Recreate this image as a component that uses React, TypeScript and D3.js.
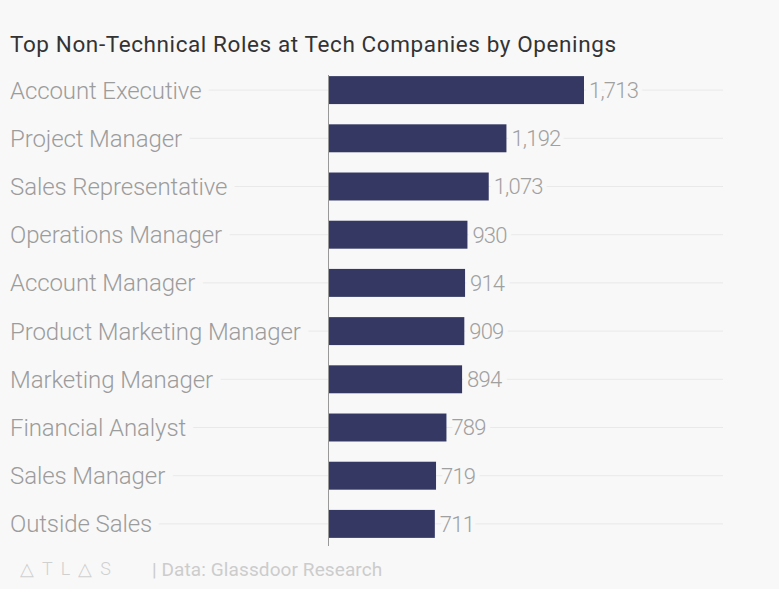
import { useEffect, useRef } from 'react'
import * as d3 from 'd3'

const roles = [
  'Account Executive',
  'Project Manager',
  'Sales Representative',
  'Operations Manager',
  'Account Manager',
  'Product Marketing Manager',
  'Marketing Manager',
  'Financial Analyst',
  'Sales Manager',
  'Outside Sales',
]
const openings = [1713, 1192, 1073, 930, 914, 909, 894, 789, 719, 711]

const width = 779
const height = 589
const bg = '#f8f8f8'

export default function App() {
  const svgRef = useRef<SVGSVGElement>(null)

  useEffect(() => {
    if (!svgRef.current) return
    const svg = d3.select(svgRef.current)
    svg.selectAll('*').remove()

    const data = roles.map((r, i) => ({ role: r, value: openings[i] }))

    const x = d3.scaleLinear().domain([0, 1713]).range([329, 584])
    const y = d3.scaleBand<string>()
      .domain(roles)
      .range([66, 548])
      .paddingInner(0.42)
      .paddingOuter(0.21)

    svg.append('rect').attr('width', width).attr('height', height).attr('fill', bg)

    svg.append('text')
      .attr('x', 10)
      .attr('y', 51.5)
      .attr('fill', '#333')
      .attr('font-family', 'Roboto, sans-serif')
      .attr('font-size', '22.5px')
      .attr('letter-spacing', '0.6px')
      .text('Top Non-Technical Roles at Tech Companies by Openings')

    const rows = svg.append('g')
      .selectAll('g')
      .data(data)
      .enter()
      .append('g')

    const cy = (d: { role: string }) => (y(d.role) ?? 0) + y.bandwidth() / 2

    // gridlines
    rows.append('line')
      .attr('x1', 10)
      .attr('x2', 723)
      .attr('y1', cy)
      .attr('y2', cy)
      .attr('stroke', '#e9e9e9')
      .attr('stroke-width', 1)

    // category labels (background stroke breaks the gridline)
    rows.append('text')
      .attr('x', 10)
      .attr('y', cy)
      .attr('dy', '0.35em')
      .attr('fill', '#9c9c9c')
      .attr('stroke', bg)
      .attr('stroke-width', 16)
      .attr('paint-order', 'stroke')
      .attr('font-family', 'Roboto, sans-serif')
      .attr('font-weight', 300)
      .attr('font-size', '24px')
      .attr('letter-spacing', '-0.1px')
      .text(d => d.role)

    rows.append('rect')
      .attr('x', x(0))
      .attr('y', d => y(d.role) ?? 0)
      .attr('width', d => x(d.value) - x(0))
      .attr('height', y.bandwidth())
      .attr('fill', '#343862')

    rows.append('text')
      .attr('x', d => x(d.value) + 5)
      .attr('y', cy)
      .attr('dy', '0.36em')
      .attr('fill', '#a0a0a0')
      .attr('stroke', bg)
      .attr('stroke-width', 10)
      .attr('paint-order', 'stroke')
      .attr('font-family', 'Roboto, sans-serif')
      .attr('font-weight', 300)
      .attr('font-size', '22px')
      .attr('letter-spacing', '-0.8px')
      .text(d => d3.format(',')(d.value))

    // axis line
    svg.append('line')
      .attr('x1', x(0) - 0.5)
      .attr('x2', x(0) - 0.5)
      .attr('y1', 75)
      .attr('y2', 546)
      .attr('stroke', '#999')
      .attr('stroke-width', 1)

    // footer
    svg.append('text')
      .attr('x', 20)
      .attr('y', 575)
      .attr('fill', '#d0d0d0')
      .attr('font-family', 'Roboto, sans-serif')
      .attr('font-weight', 300)
      .attr('font-size', '18px')
      .attr('letter-spacing', '8px')
      .text('\u25B3TL\u25B3S')

    svg.append('text')
      .attr('x', 152)
      .attr('y', 576)
      .attr('fill', '#cccccc')
      .attr('font-family', 'Roboto, sans-serif')
      .attr('font-size', '19px')
      .attr('letter-spacing', '0.1px')
      .text('| Data: Glassdoor Research')
  }, [])

  return (
    <div style={{ position: 'absolute', left: 0, top: 0 }}>
      <svg ref={svgRef} width={width} height={height} style={{ display: 'block' }} />
    </div>
  )
}
